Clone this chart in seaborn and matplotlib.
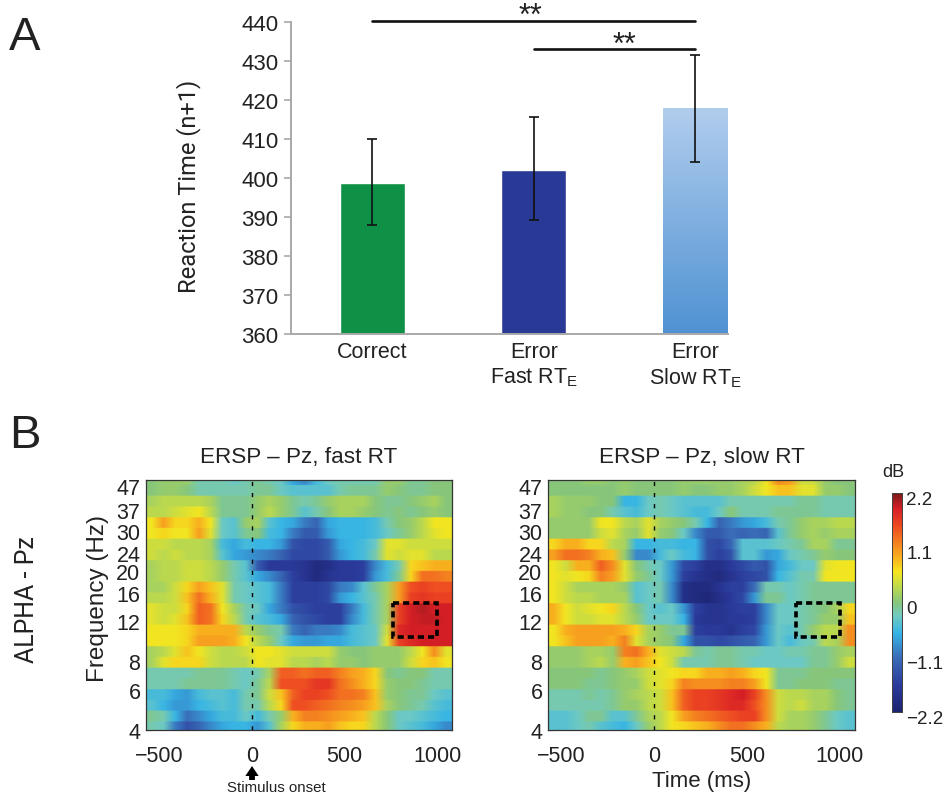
import numpy as np
import matplotlib
matplotlib.use('Agg')
import matplotlib.pyplot as plt
import seaborn as sns
from matplotlib.colors import LinearSegmentedColormap
from matplotlib.patches import Rectangle
from matplotlib.transforms import ScaledTranslation

sns.set_theme(style='ticks')
plt.rcParams['font.family'] = ['Liberation Sans', 'DejaVu Sans']
TALL = ['Roboto', 'Liberation Sans']

categories = ['Correct', 'Error fast', 'Error slow']
bar_labels = ['Correct', 'Error\nFast RT$_{\\mathregular{E}}$', 'Error\nSlow RT$_{\\mathregular{E}}$']
rt_means = [398.7, 402.1, 417.8]
rt_low = [388.0, 389.3, 404.0]
rt_high = [410.0, 415.6, 431.6]
rt_ticks = [360, 370, 380, 390, 400, 410, 420, 430, 440]

freq_ticks = [4, 6, 8, 12, 16, 20, 24, 30, 37, 47]
time_ticks = [-500, 0, 500, 1000]
time_labels = ['\u2212500', '0', '500', '1000']
cbar_ticks = [-2.2, -1.1, 0, 1.1, 2.2]
cbar_labels = ['\u22122.2', '\u22121.1', '0', '1.1', '2.2']

# dB per cell, top row = highest frequency
ersp_fast = [
    [0, .1, .1, .1, -.2, -.2, -.2, -.3, -.2, -.1, -.2, -.3, -.7, -.9, -.5, -.3, -.2, -.2, -.2, -.2, .1, .1, -.1, -.1, 0, 0],
    [0, .1, .1, 0, -.2, -.2, -.2, -.2, -.2, -.1, -.1, -.3, -.4, -.4, -.4, -.4, -.2, -.1, -.1, -.1, .1, 0, -.1, -.1, 0, 0],
    [.2, .3, .3, .3, .3, .2, -.1, -.1, -.1, .1, .2, .1, -.1, -.2, -.1, .1, .2, .2, .2, 0, -.1, -.1, 0, .1, .2, 0],
    [.3, .3, .4, .5, .6, .3, -.1, -.1, -.1, .1, .3, .1, -.1, -.4, -.2, 0, .2, .2, .1, 0, -.1, 0, -.1, 0, .1, 0],
    [.6, 1.0, .7, .7, .9, .6, -.3, -.4, .1, .2, -.4, -.6, -.7, -1.0, -1.2, -.7, -.6, -.6, -.6, -.5, -.2, 0, .1, .3, .6, .6],
    [.6, .7, .6, .6, 1.0, .5, -.3, -.4, -.1, 0, -.5, -.6, -1.0, -1.3, -1.3, -.8, -.6, -.6, -.6, -.5, -.3, -.1, .1, .3, .5, .6],
    [.4, .4, .3, .3, .3, .2, -.5, -.7, -.5, -.6, -.6, -.8, -1.4, -1.5, -1.5, -1.3, -.7, -.6, -.5, -.3, .5, .5, .4, .4, .4, .4],
    [.4, .3, .4, .3, .3, .2, -.4, -.7, -.8, -.9, -1.0, -1.2, -1.5, -1.5, -1.5, -1.3, -.8, -.6, -.5, -.2, .5, .4, .5, .5, .3, .3],
    [.2, .3, .3, .4, .4, .3, .1, -.2, -.4, -1.3, -1.7, -1.7, -1.7, -1.8, -2.0, -1.9, -1.7, -1.7, -1.6, -.9, -.5, -.2, .7, .8, .9, .9],
    [.2, .3, .3, .4, .4, .3, .1, -.2, -.4, -.7, -.9, -1.2, -1.6, -1.8, -2.0, -1.8, -1.7, -1.7, -1.6, -.8, -.5, -.1, .7, 1.3, 1.3, 1.2],
    [.2, .2, .4, .7, 1.0, .8, .5, -.2, -.3, -.4, -.5, -1.0, -1.6, -1.6, -1.6, -1.5, -1.0, -.9, -.4, -.1, .2, 1.0, 1.5, 1.6, 1.5, 1.5],
    [.3, .3, .4, .8, 1.3, .9, .5, -.2, -.3, -.4, -.5, -1.0, -1.6, -1.6, -1.6, -1.5, -.8, -.6, -.4, -.2, .2, 1.0, 1.6, 1.7, 1.6, 1.6],
    [.5, .4, .4, .7, 1.4, 1.3, .6, .2, -.2, -.3, -.7, -1.0, -1.4, -1.5, -1.6, -1.6, -1.6, -1.0, -.5, -.2, .2, 1.6, 1.9, 2.0, 1.9, 1.9],
    [.5, .4, .5, .8, 1.4, 1.3, .7, .3, -.2, -.4, -.5, -.7, -1.2, -1.4, -1.5, -1.6, -1.6, -.9, -.5, -.2, .2, 1.6, 1.9, 1.95, 1.95, 1.9],
    [.6, .6, .6, .7, .9, .9, .9, .9, .3, .1, -.1, -.2, -1.0, -1.2, -1.0, -1.0, -.9, -.5, -.4, -.3, .4, 1.8, 1.9, 1.9, 1.9, 1.9],
    [.6, .6, .6, .7, 1.0, 1.0, 1.0, .9, .6, .3, .1, -.3, -.7, -.8, -.8, -.7, -.7, -.5, -.4, -.3, .5, 1.6, 1.8, 1.9, 1.9, 1.9],
    [.2, .3, .5, .8, .6, .4, .3, .3, .4, .6, .6, .5, .4, .4, .4, .4, .1, 0, 0, .1, .1, .1, .3, .6, 1.1, .5],
    [.2, .5, .7, .7, .7, .4, .3, .3, .3, .6, .5, .5, .3, .3, .2, .3, .1, .1, 0, .1, .1, .1, .4, .7, .8, .6],
    [-.2, -.2, -.2, -.2, -.1, -.1, -.1, -.2, -.3, -.2, .2, 1.4, 1.4, 1.3, 1.4, 1.4, 1.2, 1.0, .9, .7, 0, -.1, 0, 0, -.2, -.2],
    [-.2, -.2, -.2, -.1, -.1, -.1, -.1, -.2, -.3, -.1, .3, 1.5, 1.5, 1.5, 1.7, 1.7, 1.3, 1.1, .9, .7, .1, 0, 0, -.1, -.2, -.2],
    [-.5, -.5, -.7, -.8, -.5, -.4, -.4, -.5, -.2, -.1, .4, .8, 1.4, 1.6, 1.6, 1.5, 1.3, 1.3, 1.2, .8, .1, 0, -.1, -.1, -.3, -.4],
    [-.4, -.6, -.8, -.8, -.6, -.5, -.4, -.5, -.2, -.2, .3, .7, 1.5, 1.5, 1.4, 1.3, 1.2, 1.1, 1.0, .8, .2, 0, -.1, -.2, -.4, -.5],
    [-.1, -.2, -.6, -1.1, -.9, -.7, -.5, -.5, -.3, -.5, -.2, .1, .9, 1.2, 1.2, 1.1, 1.0, .9, .8, .3, 0, -.3, -.3, -.4, -.5, -.6],
    [-.2, -.3, -1.0, -1.4, -1.2, -.9, -.7, -.6, -.6, -.8, -.4, .2, .7, .9, .9, 1.0, .8, .7, .7, .3, 0, -.3, -.4, -.5, -.7, -.9],
]

ersp_slow = [
    [0, 0, 0, .1, .1, 0, .1, 0, 0, 0, 0, .1, .1, .1, .1, .1, .2, .3, .6, 1.1, 1.0, .4, .4, .1, 0, 0],
    [0, 0, 0, 0, 0, 0, .1, 0, 0, 0, 0, .1, 0, 0, .1, .1, .2, .4, .6, .8, .8, .5, .5, .1, .1, 0],
    [.2, .1, .1, .1, 0, 0, -.6, -.6, -.3, -.2, -.3, -.4, -.4, -.4, -.4, -.2, -.2, -.2, -.2, -.2, -.2, -.1, -.1, -.2, -.2, -.2],
    [.2, .1, .1, 0, 0, -.2, -.4, -.5, -.3, -.2, -.3, -.4, -.5, -.5, -.3, 0, -.2, -.2, -.2, -.1, -.1, -.1, -.1, -.2, -.2, -.2],
    [.1, .1, .1, .1, .6, .6, .3, .2, .5, .2, .1, 0, -.2, -.6, -1.2, -1.0, -.8, -.7, -.5, -.2, -.1, .1, .2, .2, .3, .3],
    [.1, .1, .1, .1, .4, .5, .2, .1, .5, .1, 0, -.3, -.9, -1.3, -1.3, -1.1, -1.2, -1.1, -1.2, -.4, -.1, .1, .2, .1, .2, .2],
    [.7, .9, .9, .7, .7, .3, .2, -.6, -.6, -.5, -.5, -.6, -.6, -1.4, -1.5, -1.2, -.4, -.4, -.4, -.3, -.2, -.1, .2, .2, -.1, -.1],
    [1.0, 1.3, 1.3, 1.2, .9, .8, .1, -.9, -.9, -.5, -.3, -.5, -.6, -1.4, -1.6, -1.4, -.4, -.4, -.8, -.7, -.3, -.2, -.1, .1, 0, 0],
    [.6, .4, .9, .9, 1.4, 1.1, .5, 0, -.2, -.3, -.8, -1.5, -1.6, -1.9, -1.9, -1.7, -1.5, -1.3, -1.4, -.7, -.5, -.3, -.3, .5, .6, .6],
    [.6, .5, .6, .7, 1.2, 1.0, .5, .1, -.1, -.3, -.8, -1.6, -1.8, -1.9, -2.0, -1.8, -1.6, -1.5, -1.4, -.6, -.4, -.2, -.2, .6, .6, .6],
    [.6, .4, .2, .2, .2, .2, .1, -.4, -.3, -.2, -.9, -1.9, -2.0, -2.0, -1.8, -1.6, -1.6, -1.1, -.2, -.2, -.3, -.2, -.1, -.1, -.1, -.1],
    [.6, .4, .3, .3, .2, .2, .2, -.4, -.3, -.2, -.9, -1.9, -2.0, -2.1, -1.9, -1.7, -1.5, -.8, -.1, -.1, -.3, -.2, -.1, -.1, -.1, -.1],
    [.9, .6, .4, .5, .6, .7, .3, 0, -.3, -.4, -.3, -.8, -1.6, -1.8, -1.8, -1.7, -1.6, -1.6, -.9, -.3, -.3, -.2, -.1, 0, .2, .7],
    [.9, .6, .4, .4, .5, .5, .3, .1, -.3, -.3, -.3, -.6, -1.7, -1.8, -1.8, -1.7, -1.7, -1.6, -.9, -.3, -.3, -.2, -.1, .1, .1, .8],
    [.6, .9, 1.0, 1.0, 1.0, 1.0, .9, .7, .2, .1, -.1, -.1, -1.6, -1.7, -1.7, -1.8, -1.6, -1.5, -.8, -.3, -.4, -.2, .1, .3, .3, 1.1],
    [.6, .8, 1.0, 1.0, 1.0, .9, 1.2, .5, .2, .1, 0, -.7, -1.4, -1.4, -1.5, -1.4, -1.3, -1.2, -.8, -.3, -.5, -.3, -.2, .3, .2, 1.1],
    [.1, .1, .1, .2, .2, .1, 1.2, 1.3, .9, .5, .4, .3, -.1, -.2, -.1, -.1, -.2, -.2, -.3, -.3, -.2, -.2, -.1, -.1, .1, .2],
    [.1, .1, .1, .2, .3, .1, .9, 1.0, .8, .6, .4, -.2, -.2, -.2, -.1, -.1, -.2, -.3, -.3, -.3, -.3, -.3, -.1, -.1, .1, .4],
    [0, 0, 0, 0, -.1, 0, .1, .2, .4, .5, .6, .7, .7, .9, .9, 1.0, .9, .7, .6, -.1, -.1, -.1, 0, 0, 0, 0],
    [0, 0, 0, -.1, -.1, 0, .1, .1, .4, .5, .7, 1.2, 1.1, 1.1, 1.1, 1.2, 1.2, 1.0, .6, -.1, -.1, 0, 0, 0, -.1, -.1],
    [-.2, -.2, -.2, -.1, -.2, -.1, .1, .2, .3, .4, .8, 1.4, 1.6, 1.6, 1.7, 1.8, 1.9, 1.6, 1.1, .4, .3, .3, .2, .2, 0, -.1],
    [-.2, -.2, -.2, -.2, -.2, -.1, .1, .1, .3, .4, .8, 1.4, 1.6, 1.6, 1.7, 1.8, 1.8, 1.5, 1.1, .4, .3, .4, .2, .2, 0, -.1],
    [-.4, -.4, -.3, -.1, -.1, -.4, -.4, -.1, .2, .3, .6, 1.0, 1.2, 1.3, 1.4, 1.5, 1.6, 1.6, 1.1, .4, .2, .2, .1, -.1, -.3, -.4],
    [-.4, -.4, -.3, -.2, -.4, -.5, -.6, -.3, .1, .3, .6, .7, .8, .9, 1.1, 1.3, 1.3, 1.1, .9, .3, .2, .2, .1, -.1, -.3, -.4],
]

W, H = 948, 804
TIME_MIN, TIME_MAX = -572, 1081
FREQ_MIN, FREQ_MAX = 4, 50
ROW_TOP, ROW_BOTTOM = 0.54, 23.8

muted_jet = LinearSegmentedColormap.from_list('muted_jet', [
    (0.00, '#1c2470'), (0.12, '#2b3a9b'), (0.25, '#3a6db8'), (0.36, '#35b4e6'),
    (0.44, '#72cbc0'), (0.50, '#86c67c'), (0.57, '#bcd94e'), (0.64, '#f5e61e'),
    (0.70, '#f9b41e'), (0.76, '#f58a20'), (0.85, '#ee4a22'), (0.93, '#d81f26'),
    (1.00, '#7a1a1a'),
])


def px_axes(left, top, right, bottom):
    return fig.add_axes([left / W, 1 - bottom / H, (right - left) / W, (bottom - top) / H])


def time_col(t):
    return (t - TIME_MIN) / (TIME_MAX - TIME_MIN) * 26


def freq_row(f):
    frac = np.log(f / FREQ_MIN) / np.log(FREQ_MAX / FREQ_MIN)
    return ROW_BOTTOM - frac * (ROW_BOTTOM - ROW_TOP)


def draw_ersp(ax, values, title, **kws):
    sns.heatmap(np.array(values), ax=ax, cmap=muted_jet, vmin=-2.2, vmax=2.2,
                xticklabels=False, yticklabels=False, **kws)
    # the original is smeared along time, so same cells again with bilinear display
    ax.imshow(np.repeat(values, 8, axis=0), cmap=muted_jet, vmin=-2.2, vmax=2.2,
              interpolation='bilinear', aspect='auto', extent=(0, 26, 24, 0), zorder=1)
    ax.set_ylim(ROW_BOTTOM, ROW_TOP)
    ax.set_xlim(0, 26)
    for s in ax.spines.values():
        s.set_visible(True)
        s.set_color('#333333')
        s.set_linewidth(0.9)
    ax.set_xticks([time_col(t) for t in time_ticks])
    ax.set_xticklabels(time_labels, rotation=0)
    ax.set_yticks([freq_row(f) for f in freq_ticks])
    ax.set_yticklabels([str(f) for f in freq_ticks], rotation=0)
    ax.tick_params(direction='in', top=True, right=True, bottom=True, left=True, length=3.5,
                   width=0.8, color='#222222', labelsize=15.5, labelcolor='#222222', pad=4)
    ax.tick_params(axis='x', pad=11)
    ax.axvline(time_col(0), color='black', lw=1, ls=(0, (3, 5)), zorder=3)
    ax.add_patch(Rectangle((time_col(764), freq_row(14.5)), time_col(1000) - time_col(764),
                           freq_row(10.2) - freq_row(14.5), fill=False, ec='black', lw=2.6,
                           ls=(0, (1.7, 1.1)), zorder=3))
    ax.set_title(title, fontsize=16.2, color='#222222', pad=13)


fig = plt.figure(figsize=(W / 100, H / 100), dpi=100)

# A: reaction time bars
ax_bar = px_axes(291, 23, 728, 335)
sns.barplot(x=categories, y=rt_means, hue=categories, palette=['#0f9047', '#283a96', '#5b9bd5'],
            width=0.4, saturation=1, legend=False, ax=ax_bar)
bar = ax_bar.patches[2]
fade = LinearSegmentedColormap.from_list('fade', ['#b1cdee', '#4f92d2'])
ax_bar.imshow(np.linspace(0, 1, 128)[:, None], cmap=fade, aspect='auto', zorder=bar.get_zorder() + 0.1,
              extent=(bar.get_x(), bar.get_x() + bar.get_width(), 360, rt_means[2]))
ax_bar.set_xlim(-0.505, 2.205)
ax_bar.set_ylim(360, 440)
ax_bar.errorbar([0, 1, 2], rt_means,
                yerr=[np.subtract(rt_means, rt_low), np.subtract(rt_high, rt_means)],
                fmt='none', ecolor='#111111', elinewidth=1.2, capsize=3.5, capthick=1.2, zorder=5)
sns.despine(ax=ax_bar)
ax_bar.spines['left'].set_color('#a9a9a9')
ax_bar.spines['bottom'].set_color('#a9a9a9')
ax_bar.spines['left'].set_linewidth(1.4)
ax_bar.spines['bottom'].set_linewidth(1.4)
ax_bar.set_yticks(rt_ticks)
ax_bar.set_xticks([0, 1, 2])
ax_bar.set_xticklabels(bar_labels)
ax_bar.tick_params(axis='y', length=5, width=1.2, color='#a9a9a9', labelsize=16, labelcolor='#222222', pad=4)
ax_bar.tick_params(axis='x', length=0, labelsize=15.5, labelcolor='#222222', pad=5)
ax_bar.set_ylabel('Reaction Time (n+1)', fontsize=17, family=TALL, color='#222222')
ax_bar.yaxis.set_label_coords(-90 / 437, (335 - 186) / 312)
ax_bar.plot([0, 2], [440.2, 440.2], color='#111111', lw=1.9, clip_on=False)
ax_bar.plot([1, 2], [433, 433], color='#111111', lw=1.9, clip_on=False)
ax_bar.text(0.98, 441.6, '**', ha='center', va='center', fontsize=22, clip_on=False, color='#222222')
ax_bar.text(1.56, 434.1, '**', ha='center', va='center', fontsize=22, clip_on=False, color='#222222')

# B: ERSP maps
ax_fast = px_axes(146, 481, 452, 731)
ax_slow = px_axes(548, 481, 855, 731)
ax_cbar = px_axes(892, 494, 902, 713)
draw_ersp(ax_fast, ersp_fast, 'ERSP \u2013 Pz, fast RT', cbar_ax=ax_cbar, cbar_kws={'ticks': cbar_ticks})
draw_ersp(ax_slow, ersp_slow, 'ERSP \u2013 Pz, slow RT', cbar=False)

ax_fast.set_ylabel('Frequency (Hz)', fontsize=17.5, color='#222222', labelpad=5, y=0.528)
ax_slow.set_xlabel('Time (ms)', fontsize=16, color='#222222', labelpad=3)

ax_cbar.set_yticklabels(cbar_labels)
ax_cbar.tick_params(length=2, width=0.7, color='#333333', direction='in', labelsize=13.5, labelcolor='#222222', pad=3)
shift = ScaledTranslation(0, -3 / 72, fig.dpi_scale_trans)
for lab in ax_cbar.get_yticklabels():
    lab.set_transform(lab.get_transform() + shift)
for s in ax_cbar.spines.values():
    s.set_visible(True)
    s.set_linewidth(0.7)
    s.set_color('#444444')

fig.text(893 / W, 1 - 473 / H, 'dB', fontsize=13, ha='center', va='center', color='#222222')
fig.text(25 / W, 1 - 38 / H, 'A', fontsize=34, ha='center', va='center', color='#222222')
fig.text(25 / W, 1 - 436 / H, 'B', fontsize=34, ha='center', va='center', color='#222222')
fig.text(27 / W, 1 - 600 / H, 'ALPHA - Pz', fontsize=18, family=TALL, rotation=90,
         ha='center', va='center', color='#222222')
fig.text(276 / W, 1 - 788 / H, 'Stimulus onset', fontsize=10.8, ha='center', va='center', color='#222222')
fig.add_artist(plt.Annotation('', xy=(252 / W, 1 - 767 / H), xytext=(252 / W, 1 - 781 / H),
                              xycoords='figure fraction', textcoords='figure fraction',
                              arrowprops=dict(arrowstyle='simple,head_width=0.8,head_length=0.6,tail_width=0.35',
                                              color='black', lw=0, shrinkA=0, shrinkB=0)))

fig.savefig('out.png', dpi=100)
